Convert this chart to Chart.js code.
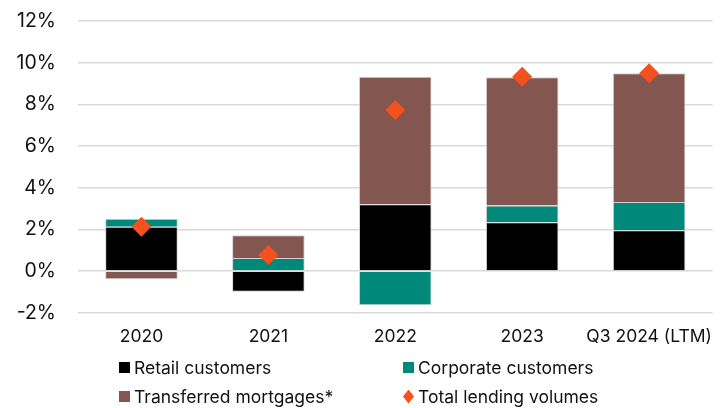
<!DOCTYPE html>
<html>
<head>
<meta charset="utf-8">
<script src="https://cdn.jsdelivr.net/npm/chart.js@4"></script>
<style>
  html, body { margin: 0; padding: 0; background: #ffffff; }
  #wrap { position: relative; width: 727px; height: 408px; }
  canvas { position: absolute; left: 0; top: 0; }
  .lg { position: absolute; display: flex; align-items: center; height: 20px;
        font-family: Inter, "Noto Sans", sans-serif; font-size: 17.5px; color: #111; white-space: nowrap; }
  .sw { width: 11px; height: 11px; margin-right: 4px; flex: none; }
  .dm { width: 11px; height: 14px; margin-right: 4px; flex: none;
        clip-path: polygon(50% 0, 100% 50%, 50% 100%, 0 50%); }
</style>
</head>
<body>
<div id="wrap">
  <canvas id="c" width="727" height="408"></canvas>
  <div id="legend"></div>
</div>
<script>
const categories = ["2020", "2021", "2022", "2023", "Q3 2024 (LTM)"];
const retail = [2.13, -1.0, 3.21, 2.34, 1.96];
const corporate = [0.38, 0.63, -1.64, 0.81, 1.35];
const mortgages = [-0.4, 1.09, 6.12, 6.15, 6.18];
const total = [2.13, 0.77, 7.73, 9.32, 9.49];
const seriesNames = ["Retail customers", "Corporate customers", "Transferred mortgages*", "Total lending volumes"];
const seriesColors = ["#000000", "#00897B", "#83574F", "#F4511E"];
const yTicks = [-2, 0, 2, 4, 6, 8, 10, 12];

const barBorder = "rgba(205,205,205,0.9)";
const ctx = document.getElementById("c").getContext("2d");
new Chart(ctx, {
  data: {
    labels: categories,
    datasets: [
      { type: "bar", label: seriesNames[0], data: retail, backgroundColor: seriesColors[0], borderColor: barBorder, borderWidth: 1, order: 1 },
      { type: "bar", label: seriesNames[1], data: corporate, backgroundColor: seriesColors[1], borderColor: barBorder, borderWidth: 1, order: 1 },
      { type: "bar", label: seriesNames[2], data: mortgages, backgroundColor: seriesColors[2], borderColor: barBorder, borderWidth: 1, order: 1 },
      { type: "line", label: seriesNames[3], data: total, showLine: false, stack: "total",
        pointStyle: "rectRot", pointRadius: 10, pointHoverRadius: 10,
        pointBackgroundColor: seriesColors[3], pointBorderColor: seriesColors[3], pointBorderWidth: 0, order: 0 }
    ]
  },
  options: {
    responsive: false,
    animation: false,
    devicePixelRatio: 1,
    layout: { padding: { left: 0, right: 11, top: 21, bottom: 46.3 } },
    plugins: { legend: { display: false }, tooltip: { enabled: false } },
    datasets: { bar: { barPercentage: 1, categoryPercentage: 0.572 } },
    scales: {
      x: {
        stacked: true,
        grid: { display: false, drawTicks: false },
        border: { display: false },
        ticks: { color: "#111", padding: 14, maxRotation: 0, autoSkip: false,
                 font: { family: "Inter", size: 17.5 } }
      },
      y: {
        stacked: true,
        min: yTicks[0], max: yTicks[yTicks.length - 1],
        afterBuildTicks: (s) => { s.ticks = yTicks.map(v => ({ value: v })); },
        afterFit: (s) => { s.width = 78; },
        grid: { color: "#d9d9d9", lineWidth: 1.5, drawTicks: true, tickLength: 22, tickColor: "rgba(0,0,0,0)" },
        border: { display: false },
        ticks: { color: "#111", padding: 0, font: { family: "Inter", size: 19.5 },
                 callback: (v) => v + "%" }
      }
    }
  }
});

// HTML legend built from series arrays
const legendPos = [
  { left: 119, top: 357.5 },
  { left: 403, top: 357.5 },
  { left: 119, top: 386.5 },
  { left: 403, top: 386.5 }
];
const lg = document.getElementById("legend");
seriesNames.forEach((name, i) => {
  const d = document.createElement("div");
  d.className = "lg";
  d.style.left = legendPos[i].left + "px";
  d.style.top = legendPos[i].top + "px";
  const m = document.createElement("span");
  m.className = i === 3 ? "dm" : "sw";
  m.style.background = seriesColors[i];
  const t = document.createElement("span");
  t.textContent = name;
  d.appendChild(m); d.appendChild(t);
  lg.appendChild(d);
});
</script>
</body>
</html>
